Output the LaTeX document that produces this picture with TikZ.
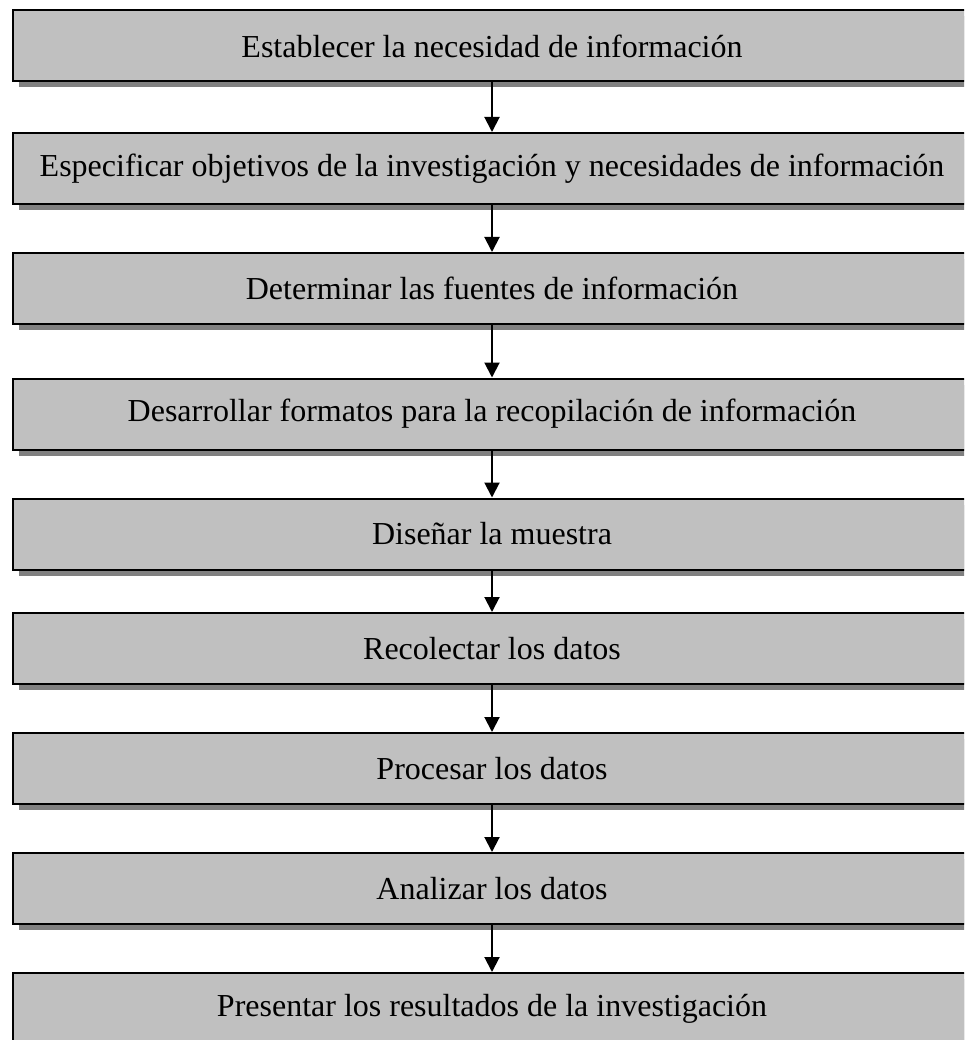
\documentclass[tikz,border=0pt]{standalone}
\usepackage{fontspec}
\setmainfont{Liberation Serif}
\usetikzlibrary{arrows.meta,shadows}
\definecolor{boxfill}{HTML}{C0C0C0}
\definecolor{shadowfill}{HTML}{808080}
\begin{document}
\begin{tikzpicture}[x=1pt,y=1pt,
  stepbox/.style={draw=black, line width=2pt, fill=boxfill,
    minimum width=958pt, minimum height=71pt, inner sep=0pt,
    font=\fontsize{32}{38}\selectfont,
    drop shadow={shadow xshift=6pt, shadow yshift=-6pt, fill=shadowfill, opacity=1}},
  flow/.style={line width=2pt, -{Triangle[length=15pt,width=15pt]}}]
\useasboundingbox (0,0) rectangle (964,-1040);
\clip (0,0) rectangle (964,-1040);
\node[stepbox] (b1) at (492,-46) {Establecer la necesidad de información};
\node[stepbox] (b2) at (492,-168.5) {Especificar objetivos de la investigación y necesidades de información};
\node[stepbox] (b3) at (492,-288.5) {Determinar las fuentes de información};
\node[stepbox] (b4) at (492,-414) {Desarrollar formatos para la recopilación de información};
\node[stepbox] (b5) at (492,-534) {Diseñar la muestra};
\node[stepbox] (b6) at (492,-648.5) {Recolectar los datos};
\node[stepbox] (b7) at (492,-768.5) {Procesar los datos};
\node[stepbox] (b8) at (492,-888.5) {Analizar los datos};
\node[stepbox] (b9) at (492,-1008.5) {Presentar los resultados de la investigación};
\foreach \a/\b in {b1/b2,b2/b3,b3/b4,b4/b5,b5/b6,b6/b7,b7/b8,b8/b9}
  \draw[flow] (\a.south) -- (\b.north);
\end{tikzpicture}
\end{document}
